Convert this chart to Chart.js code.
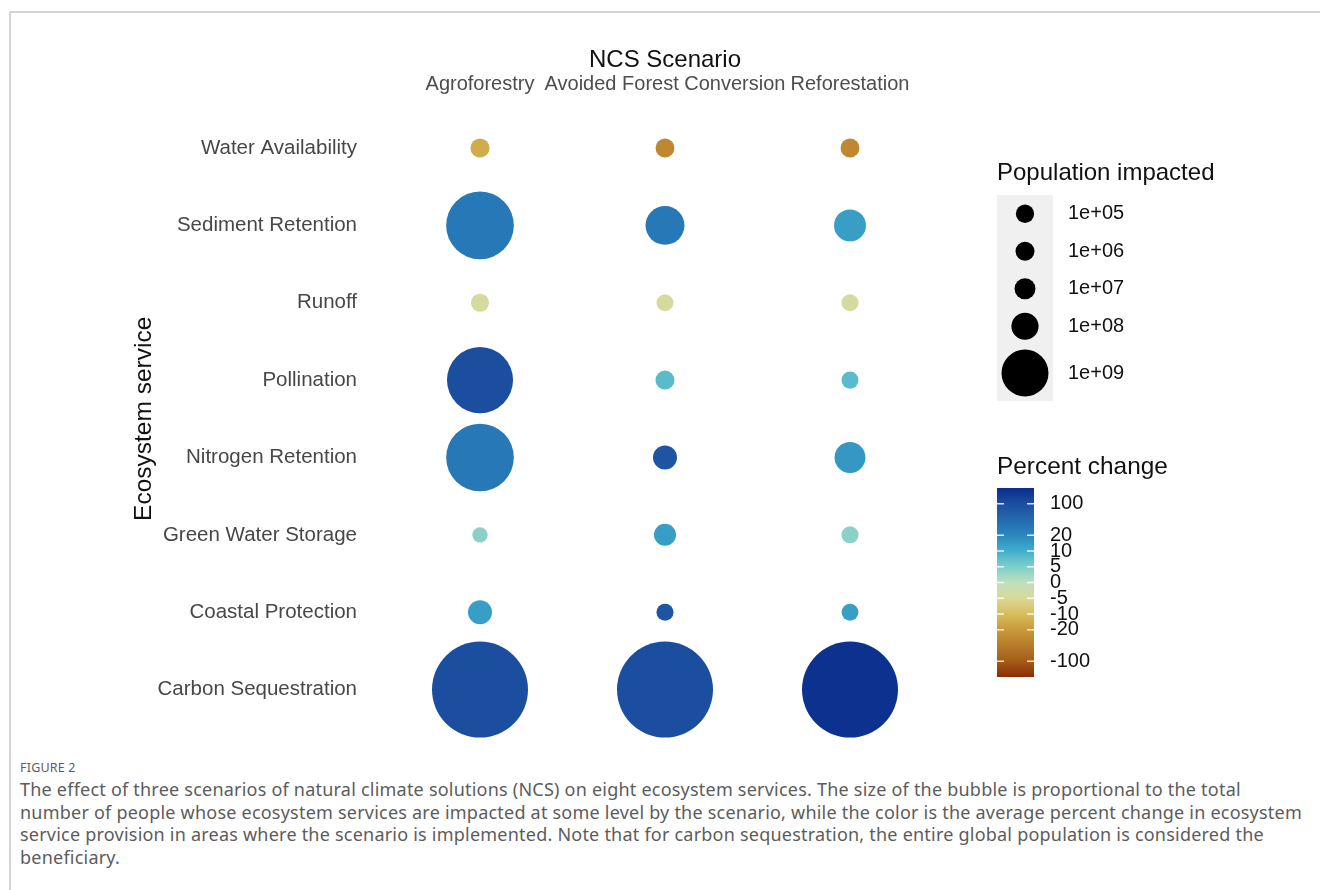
<!DOCTYPE html>
<html>
<head>
<meta charset="utf-8">
<title>NCS scenarios and ecosystem services</title>
<script src="https://cdn.jsdelivr.net/npm/chart.js@4.4.1/dist/chart.umd.min.js"></script>
<style>
  body { margin: 0; background: #fff; width: 1320px; height: 890px; position: relative; overflow: hidden; }
  #frame { position: absolute; left: 9px; top: 11px; right: 0; bottom: 0; border-top: 2px solid #d4d4d4; border-left: 2px solid #d4d4d4; }
  #plot { position: absolute; left: 0; top: 0; pointer-events: none; }
  #caption { position: absolute; left: 20px; top: 758px; font-family: "Noto Sans", sans-serif; color: #5c5c5c; }
  #caption .fig { font-size: 12.5px; line-height: 20px; letter-spacing: 0.2px; }
  #caption .line { font-size: 18px; line-height: 22.7px; letter-spacing: 0.22px; white-space: nowrap; }
</style>
</head>
<body>
<div id="frame"></div>
<div id="caption">
  <div class="fig">FIGURE 2</div>
  <div class="line">The effect of three scenarios of natural climate solutions (NCS) on eight ecosystem services. The size of the bubble is proportional to the total</div>
  <div class="line">number of people whose ecosystem services are impacted at some level by the scenario, while the color is the average percent change in ecosystem</div>
  <div class="line">service provision in areas where the scenario is implemented. Note that for carbon sequestration, the entire global population is considered the</div>
  <div class="line">beneficiary.</div>
</div>
<canvas id="plot" width="1320" height="784"></canvas>
<script>
// services from top to bottom, scenarios from left to right
const services = ['Water Availability', 'Sediment Retention', 'Runoff', 'Pollination',
                  'Nitrogen Retention', 'Green Water Storage', 'Coastal Protection', 'Carbon Sequestration'];
const scenarios = ['Agroforestry', 'Avoided Forest Conversion', 'Reforestation'];

// population impacted (people), same order as services
const popAgroforestry   = [2.0e7, 3.3e9, 1.1e7, 3.1e9, 3.3e9, 2.0e5, 9.6e7, 7.8e9];
const popAvoided        = [1.8e7, 6.8e8, 5.0e6, 1.9e7, 9.6e7, 5.8e7, 5.0e6, 7.8e9];
const popReforestation  = [1.8e7, 3.4e8, 5.0e6, 5.0e6, 3.0e8, 5.0e6, 4.0e6, 7.8e9];

// average percent change in service provision
const pctAgroforestry   = [-15, 40, -4, 100, 40, 4, 14, 100];
const pctAvoided        = [-45, 40, -4, 8, 90, 14, 90, 100];
const pctReforestation  = [-45, 14, -4, 8, 16, 4, 14, 135];

// legend breaks
const sizeBreaks = [1e5, 1e6, 1e7, 1e8, 1e9];
const sizeLabels = ['1e+05', '1e+06', '1e+07', '1e+08', '1e+09'];
const pctBreaks = [100, 20, 10, 5, 0, -5, -10, -20, -100];

const pops = [popAgroforestry, popAvoided, popReforestation];
const pcts = [pctAgroforestry, pctAvoided, pctReforestation];

const FONT = '"Liberation Sans", Arial, sans-serif';

// area scale for bubbles
const rMin = 7.5, rMax = 48, popMax = 7.8e9;
function sizeScale(v) {
  return rMin + (rMax - rMin) * Math.sqrt(v / popMax);
}

// colour bar is stretched: 0,5,10,20 one unit apart, 20->100 two units
function pctUnit(v) {
  const a = Math.abs(v), s = Math.sign(v);
  let u;
  if (a <= 10) u = a / 5;
  else if (a <= 20) u = 2 + (a - 10) / 10;
  else u = 3 + (a - 20) / 40;
  return s * Math.min(u, 6);
}

// palette, from u = -6 (bottom) to u = 6 (top)
const palette = ['#8b2b06', '#a35d18', '#b77c2a', '#c99a3b', '#d6be5e', '#dbd896', '#bfe0bd',
                 '#7dcfcb', '#41aecc', '#2b87be', '#2369ae', '#1b4e9f', '#0b2d8c'];

function hexRgb(h) {
  return [parseInt(h.slice(1, 3), 16), parseInt(h.slice(3, 5), 16), parseInt(h.slice(5, 7), 16)];
}
function pctColour(v) {
  const t = pctUnit(v) + 6;
  const i = Math.min(Math.floor(t), palette.length - 2);
  const f = t - i;
  const a = hexRgb(palette[i]), b = hexRgb(palette[i + 1]);
  const c = a.map((x, k) => Math.round(x + (b[k] - x) * f));
  return 'rgb(' + c.join(',') + ')';
}

const datasets = scenarios.map((name, j) => ({
  label: name,
  data: services.map((s, i) => ({ x: j, y: i, r: sizeScale(pops[j][i]) })),
  backgroundColor: pcts[j].map(pctColour),
  borderWidth: 0,
  clip: false
}));

// keys on the right: population sizes and percent change colour bar
const keysPlugin = {
  id: 'keys',
  afterDraw(chart) {
    const ctx = chart.ctx;
    ctx.save();
    ctx.textBaseline = 'middle';
    ctx.textAlign = 'left';

    // size key
    ctx.fillStyle = '#111';
    ctx.font = '24px ' + FONT;
    ctx.fillText('Population impacted', 997, 173);
    const keyTop = 195, keyX = 997, keyW = 56;
    const heights = sizeBreaks.map(v => Math.max(37.5, 2 * sizeScale(v) + 12));
    const total = heights.reduce((a, b) => a + b, 0);
    ctx.fillStyle = '#f0f0f0';
    ctx.fillRect(keyX, keyTop, keyW, total);
    let y = keyTop;
    ctx.font = '20px ' + FONT;
    sizeBreaks.forEach((v, i) => {
      const cy = y + heights[i] / 2;
      ctx.fillStyle = '#000';
      ctx.beginPath();
      ctx.arc(keyX + keyW / 2, cy, sizeScale(v) + 1.5, 0, Math.PI * 2);
      ctx.fill();
      ctx.fillStyle = '#111';
      ctx.fillText(sizeLabels[i], 1068, cy);
      y += heights[i];
    });

    // colour bar
    ctx.fillStyle = '#111';
    ctx.font = '24.4px ' + FONT;
    ctx.fillText('Percent change', 997, 467);
    const barX = 997, barY = 488, barW = 37, barH = 189;
    const grad = ctx.createLinearGradient(0, barY + barH, 0, barY);
    palette.forEach((c, i) => grad.addColorStop(i / (palette.length - 1), c));
    ctx.fillStyle = grad;
    ctx.fillRect(barX, barY, barW, barH);
    ctx.font = '20px ' + FONT;
    ctx.strokeStyle = 'rgba(255,255,255,0.85)';
    ctx.lineWidth = 1.5;
    pctBreaks.forEach(v => {
      const ty = barY + (6 - pctUnit(v)) * barH / 12;
      ctx.beginPath();
      ctx.moveTo(barX, ty); ctx.lineTo(barX + 7, ty);
      ctx.moveTo(barX + barW - 7, ty); ctx.lineTo(barX + barW, ty);
      ctx.stroke();
      ctx.fillStyle = '#111';
      ctx.fillText(String(v), 1050, ty);
    });
    ctx.restore();
  }
};

// the bubble controller keeps the largest radius (48px) as minimum padding,
// so the bottom edge of the plot sits 48px above the canvas bottom
new Chart(document.getElementById('plot'), {
  type: 'bubble',
  data: { datasets: datasets },
  plugins: [keysPlugin],
  options: {
    responsive: false,
    animation: false,
    events: [],
    layout: { padding: { left: 126, top: 41.6, right: 359, bottom: 0 } },
    plugins: { legend: { display: false }, tooltip: { enabled: false } },
    scales: {
      x: {
        type: 'linear',
        position: 'top',
        min: -0.6,
        max: 2.6,
        afterBuildTicks: s => { s.ticks = scenarios.map((_, i) => ({ value: i })); },
        afterFit: s => { s.height = 60; },
        ticks: {
          callback: v => scenarios[v],
          font: { family: FONT, size: 20 },
          color: '#4d4d4d',
          padding: 5,
          maxRotation: 0,
          autoSkip: false
        },
        grid: { display: false, drawTicks: false },
        border: { display: false },
        title: {
          display: true,
          text: 'NCS Scenario',
          font: { family: FONT, size: 24 },
          color: '#111',
          padding: { top: 4, bottom: 0 }
        }
      },
      y: {
        type: 'linear',
        reverse: true,
        min: -0.6,
        max: 7.6,
        afterBuildTicks: s => { s.ticks = services.map((_, i) => ({ value: i })); },
        afterFit: s => { s.width = 243; },
        ticks: {
          callback: v => services[v],
          font: { family: FONT, size: 20.5 },
          color: '#474747',
          padding: 12,
          autoSkip: false
        },
        grid: { display: false, drawTicks: false },
        border: { display: false },
        title: {
          display: true,
          text: 'Ecosystem service',
          font: { family: FONT, size: 24.5 },
          color: '#111',
          padding: { top: 4, bottom: 0 }
        }
      }
    }
  }
});
</script>
</body>
</html>
